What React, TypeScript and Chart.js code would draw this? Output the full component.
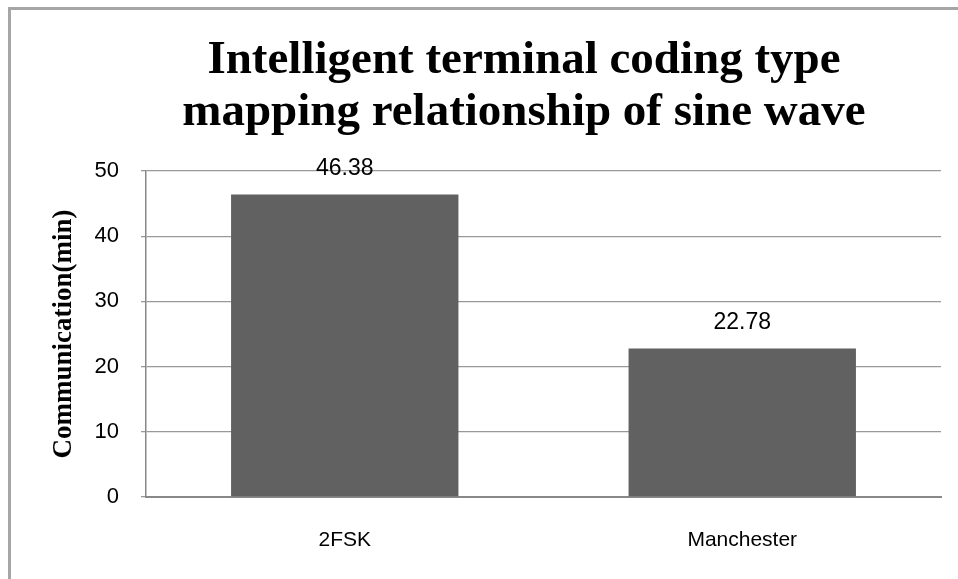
import React, { useEffect, useRef } from "react";
import { Chart, registerables } from "chart.js";

Chart.register(...registerables);

const categories = ["2FSK", "Manchester"];
const values = [46.38, 22.78];
const titleLines = ["Intelligent terminal coding type", "mapping relationship of sine wave"];
const yAxisTitle = "Communication(min)";
const yMin = 0;
const yMax = 50;
const yStep = 10;

const SANS = "'Liberation Sans', Arial, Helvetica, sans-serif";
const SERIF = "'Liberation Serif', 'Times New Roman', Times, serif";

const framePlugin = {
  id: "frameAndTitle",
  beforeDraw(chart: any) {
    const ctx = chart.ctx;
    ctx.save();
    ctx.fillStyle = "#ffffff";
    ctx.fillRect(0, 0, chart.width, chart.height);
    ctx.strokeStyle = "#a6a6a6";
    ctx.lineWidth = 3;
    ctx.beginPath();
    ctx.moveTo(9.5, 7);
    ctx.lineTo(9.5, chart.height);
    ctx.moveTo(8, 8.5);
    ctx.lineTo(chart.width, 8.5);
    ctx.stroke();
    ctx.restore();
  },
  afterDraw(chart: any) {
    const ctx = chart.ctx;
    ctx.save();
    ctx.fillStyle = "#000";
    ctx.textAlign = "center";
    ctx.textBaseline = "alphabetic";
    ctx.font = `bold 47px ${SERIF}`;
    ctx.fillText(titleLines[0], 524, 73);
    ctx.fillText(titleLines[1], 524, 125);
    ctx.restore();
  },
};

const valueLabelPlugin = {
  id: "valueLabels",
  afterDatasetsDraw(chart: any) {
    const ctx = chart.ctx;
    const meta = chart.getDatasetMeta(0);
    ctx.save();
    ctx.fillStyle = "#000";
    ctx.textAlign = "center";
    ctx.textBaseline = "middle";
    ctx.font = `23px ${SANS}`;
    meta.data.forEach((bar: any, i: number) => {
      ctx.fillText(values[i].toFixed(2), bar.x, bar.y - 26);
    });
    ctx.restore();
  },
};

export default function App() {
  const ref = useRef<HTMLCanvasElement | null>(null);

  useEffect(() => {
    if (!ref.current) return;
    const chart = new Chart(ref.current, {
      type: "bar",
      data: {
        labels: categories,
        datasets: [
          {
            data: values,
            backgroundColor: "#616161",
            borderWidth: 0,
            categoryPercentage: 1,
            barPercentage: 0.572,
          },
        ],
      },
      options: {
        animation: false,
        responsive: false,
        devicePixelRatio: 1,
        layout: { padding: { top: 171, right: 17, left: 0, bottom: 0 } },
        plugins: {
          legend: { display: false },
          title: { display: false },
          tooltip: { enabled: false },
        },
        scales: {
          x: {
            grid: { display: true, drawOnChartArea: false, drawTicks: false },
            border: { display: true, color: "#888888", width: 2 },
            ticks: {
              padding: 31,
              color: "#000",
              font: { family: SANS, size: 21 },
            },
            afterFit: (s: any) => {
              s.height = 82;
            },
          },
          y: {
            min: yMin,
            max: yMax,
            ticks: {
              stepSize: yStep,
              padding: 22,
              color: "#000",
              font: { family: SANS, size: 22 },
            },
            grid: { color: "#999999", lineWidth: 1.3, drawTicks: true, tickLength: 5 },
            border: { display: true, color: "#888888", width: 1.5 },
            title: {
              display: true,
              text: yAxisTitle,
              color: "#000",
              font: { family: SERIF, size: 27, weight: "bold" },
              padding: { top: 48, bottom: 0 },
            },
            afterFit: (s: any) => {
              s.width = 146;
            },
          },
        },
      },
      plugins: [framePlugin, valueLabelPlugin],
    });
    return () => chart.destroy();
  }, []);

  return (
    <div style={{ position: "fixed", left: 0, top: 0, width: 958, height: 579, background: "#fff" }}>
      <canvas ref={ref} width={958} height={579} style={{ display: "block", width: 958, height: 579 }} />
    </div>
  );
}
